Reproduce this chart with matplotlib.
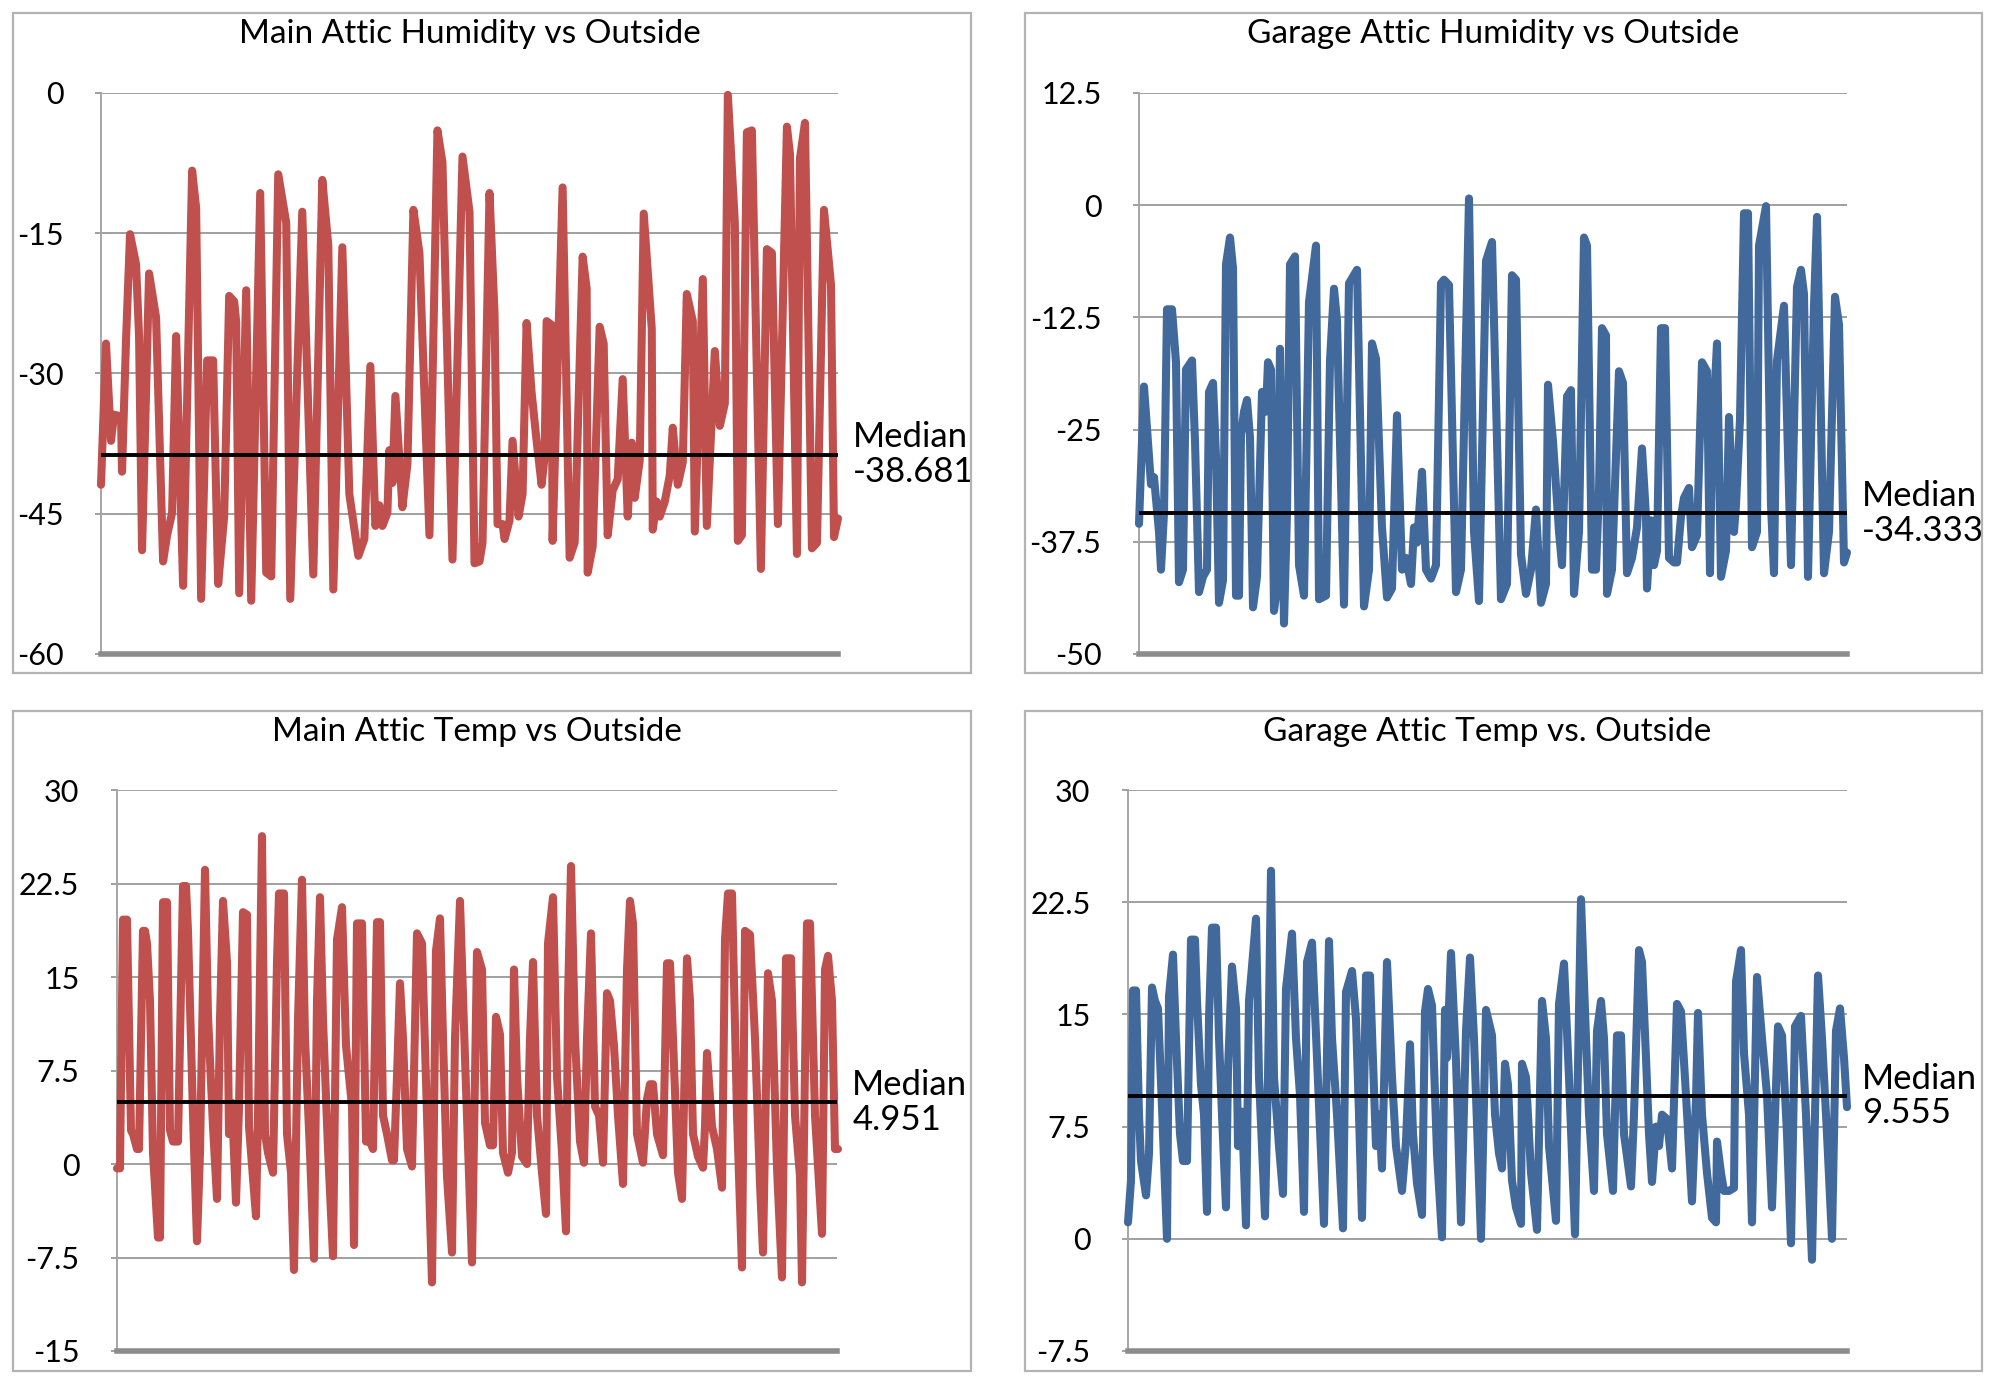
import matplotlib
matplotlib.use("Agg")
import matplotlib.pyplot as plt
from matplotlib.patches import Rectangle
from matplotlib.ticker import FuncFormatter

plt.rcParams['font.family'] = ['Lato', 'DejaVu Sans']

# ---------------- data ----------------
titles = ["Main Attic Humidity vs Outside", "Garage Attic Humidity vs Outside",
          "Main Attic Temp vs Outside", "Garage Attic Temp vs. Outside"]
medians = [-38.681, -34.333, 4.951, 9.555]
y_ticks = [[-60, -45, -30, -15, 0],
           [-50, -37.5, -25, -12.5, 0, 12.5],
           [-15, -7.5, 0, 7.5, 15, 22.5, 30],
           [-7.5, 0, 7.5, 15, 22.5, 30]]

main_hum = [(0, -41.9), (5, -26.8), (10, -37.2), (13, -34.4), (20, -34.6), (21, -40.5), (25, -26.4),
            (29, -15.1), (35, -18.3), (38, -26), (41, -48.9), (48, -19.3), (55, -24), (62, -50.1),
            (66, -47.3), (71, -44.9), (75, -26), (82, -52.7), (91, -8.3), (95, -12.3), (100, -54.1),
            (106, -28.6), (112, -28.6), (117, -52.5), (123, -45.3), (128, -21.7), (133, -22.3),
            (135, -24.5), (138, -53.5), (145, -21.1), (150, -54.3), (159, -10.7), (165, -51.3),
            (170, -51.7), (177, -8.7), (185, -13.9), (189, -54.1), (201, -12.7), (212, -51.5),
            (221, -9.3), (227, -16.3), (232, -53.1), (241, -16.5), (248, -42.9), (255, -48.1),
            (257, -49.5), (263, -47.7), (269, -29.2), (274, -46.3), (278, -44.1), (281, -46.3),
            (286, -44.9), (288, -38.2), (291, -41.7), (294, -32.4), (301, -44.3), (306, -39.7),
            (312, -12.5), (318, -17.1), (328, -47.3), (336, -4.0), (341, -7.4), (351, -49.9),
            (361, -6.8), (368, -12.7), (373, -50.3), (378, -50.1), (381, -48.1), (388, -10.7),
            (393, -23.6), (396, -46.1), (401, -46.1), (403, -47.7), (408, -45.7), (411, -37.2),
            (417, -45.3), (421, -42.9), (425, -24.6), (430, -32), (435, -37.2), (440, -41.9),
            (443, -38.9), (445, -24.4), (450, -24.8), (451, -47.9), (461, -10.1), (468, -49.7),
            (473, -48.1), (481, -17.5), (485, -20.9), (486, -51.3), (491, -48.5), (498, -25),
            (502, -26.8), (506, -47.3), (511, -42.5), (516, -41.3), (521, -30.6), (526, -45.3),
            (530, -37.4), (533, -43.3), (538, -39.3), (542, -12.9), (550, -25.2), (551, -46.7),
            (555, -43.7), (558, -45.3), (563, -43.7), (568, -40.9), (571, -35.8), (576, -41.9),
            (581, -39.5), (585, -21.5), (591, -24.4), (593, -46.9), (601, -19.9), (605, -46.3),
            (613, -27.6), (618, -35.6), (623, -33.2), (626, -0.2), (633, -13.9), (636, -47.9),
            (640, -47.3), (645, -4.2), (650, -4.0), (659, -50.9), (665, -16.7), (670, -17.1),
            (676, -46.1), (685, -3.6), (688, -6.5), (695, -49.3), (698, -7.0), (703, -3.2),
            (710, -48.7), (715, -48.1), (722, -12.5), (729, -20.5), (732, -47.5), (736, -45.5)]

garage_hum = [(0, -35.5), (5, -20.2), (10, -28), (12, -31.1), (15, -30.3), (20, -36.4), (22, -40.6),
              (25, -34.3), (28, -11.6), (33, -11.6), (37, -17.5), (40, -42), (44, -40.6), (47, -18.3),
              (53, -17.3), (56, -26.3), (60, -43.1), (64, -41.4), (68, -40.6), (70, -20.8), (74, -19.8),
              (77, -28), (80, -44.3), (84, -41.8), (87, -6.6), (91, -3.6), (94, -7), (97, -43.5),
              (100, -43.5), (102, -25.5), (105, -23), (108, -21.7), (111, -25.9), (114, -44.8),
              (118, -41.4), (123, -20.8), (127, -23), (129, -17.5), (132, -18.3), (135, -45.2),
              (138, -42.7), (141, -16), (145, -46.6), (148, -34.3), (151, -6.6), (156, -5.7),
              (160, -40.1), (165, -43.5), (170, -10.8), (177, -4.5), (180, -43.9), (187, -43.5),
              (191, -17.3), (195, -9.3), (198, -12.9), (205, -44.5), (210, -8.7), (218, -7.2),
              (225, -44.7), (230, -40.6), (233, -15.4), (237, -17.1), (243, -35.9), (248, -43.7),
              (253, -42.7), (258, -23.4), (263, -40.6), (267, -39.3), (272, -42.2), (275, -35.9),
              (278, -37.6), (283, -29.7), (287, -40.6), (292, -41.6), (297, -40.1), (302, -8.7),
              (305, -8.3), (310, -8.9), (317, -43.1), (322, -40.6), (330, 0.75), (335, -36.4),
              (340, -44.1), (347, -6.2), (353, -4.1), (362, -43.9), (368, -42.2), (373, -7.8),
              (377, -8.3), (382, -38.9), (387, -43.3), (392, -40.6), (397, -33.9), (402, -44.3),
              (407, -42.2), (409, -20), (414, -26.3), (420, -36.4), (423, -40.1), (428, -21.3),
              (432, -20.6), (435, -43.3), (440, -36.4), (445, -3.6), (448, -4.5), (453, -40.6),
              (457, -40.6), (460, -31.8), (463, -13.7), (467, -14.5), (468, -43.3), (473, -40.6),
              (480, -18.5), (484, -19.8), (488, -41), (493, -39.3), (498, -35.9), (503, -27.1),
              (507, -34.7), (508, -42.7), (512, -35.1), (515, -40.1), (518, -38.5), (522, -13.7),
              (526, -13.7), (530, -39.3), (535, -39.8), (538, -39.8), (542, -34.7), (545, -32.6),
              (550, -31.5), (553, -38.1), (558, -36.8), (563, -17.5), (568, -18.5), (571, -41),
              (573, -26.3), (578, -15.4), (582, -41.4), (587, -38.5), (590, -23.6), (595, -36.4),
              (597, -33.4), (601, -23.8), (605, -0.9), (609, -0.9), (613, -38.1), (618, -36.4),
              (620, -4.5), (627, -0.1), (632, -33.4), (635, -41), (638, -17.3), (645, -11.2),
              (652, -40.1), (658, -9.1), (662, -7.2), (665, -9.9), (669, -41.4), (675, -11.2),
              (678, -1.3), (685, -41), (690, -36.4), (696, -10.2), (700, -13.3), (705, -39.8),
              (708, -38.7)]

main_temp = [(0, -0.35), (3, -0.35), (6, 19.6), (10, 19.6), (14, 2.7), (16, 2.4), (20, 1.2), (22, 1.2),
             (26, 18.7), (28, 18.7), (30, 17.7), (33, 13.1), (36, 0.9), (41, -5.9), (43, -5.9),
             (46, 21), (50, 21), (53, 2.7), (56, 1.8), (61, 1.8), (66, 22.3), (69, 22.3), (71, 18.7),
             (76, 3.9), (80, -6.2), (83, 0.9), (88, 23.6), (91, 11.9), (96, 3), (100, -2.8),
             (103, 11.6), (106, 21.1), (110, 16.2), (112, 2.4), (115, 4.9), (119, -3.1), (122, 4.6),
             (126, 20.2), (130, 20), (132, 3), (139, -4.2), (141, 3.9), (145, 26.3), (148, 2.4),
             (151, 0.9), (156, -0.7), (160, 16.2), (162, 21.7), (167, 21.7), (170, 2.4), (174, -0.7),
             (177, -8.5), (181, 11.6), (185, 22.8), (188, 10.1), (193, 0.9), (197, -7.6), (200, 13.1),
             (203, 21.4), (206, 11.6), (211, 1.2), (216, -7.4), (220, 18), (225, 20.6), (229, 9.5),
             (235, 4.6), (237, -6.5), (240, 19.3), (245, 19.3), (249, 1.8), (253, 1.8), (256, 1.2),
             (260, 19.4), (263, 19.4), (266, 3.9), (270, 2.4), (275, 0.3), (277, 0.3), (280, 7),
             (283, 14.5), (286, 10.1), (290, 1.2), (295, -0.2), (300, 18.5), (305, 17.7), (310, 3.9),
             (315, -9.5), (319, 17.1), (323, 19.7), (326, 10.1), (330, -1), (335, -7.1), (338, 10.1),
             (343, 21.1), (348, 8.5), (355, -7.9), (360, 17), (365, 15.6), (368, 3.3), (373, 1.5),
             (376, 1.5), (379, 11.8), (383, 10.4), (386, 0.9), (391, -0.7), (395, 0.9), (397, 15.6),
             (400, 7), (405, 0.6), (410, 0), (413, 10.1), (416, 16.2), (420, 3.9), (425, -0.7),
             (429, -4), (431, 17.7), (436, 21.4), (440, 7), (445, 0.9), (449, -5.4), (451, 13.1),
             (454, 23.9), (458, 10.1), (463, 1.8), (467, 0.1), (470, 10.1), (474, 18.5), (478, 4.6),
             (482, 3.9), (486, 0.1), (490, 13.7), (493, 13.1), (497, 9.5), (501, 3.9), (506, -1.6),
             (510, 15.6), (513, 21.1), (516, 19.3), (520, 2.4), (526, 0.1), (530, 5.2), (533, 6.4),
             (536, 6.4), (540, 2.4), (546, 0.7), (550, 16.1), (553, 16.1), (556, 10.1), (561, -0.7),
             (565, -2.8), (570, 16.5), (573, 13.1), (576, 2.4), (581, 0.6), (586, -0.3), (588, 3),
             (590, 8.9), (595, 3), (600, 1.2), (605, -1.9), (608, 18), (611, 21.7), (615, 21.7),
             (620, 3.9), (625, -8.3), (628, 18.7), (633, 18.4), (638, 10.1), (643, -1.6), (646, -7.1),
             (651, 15.3), (655, 13.1), (660, -0.3), (665, -9.1), (669, 16.5), (674, 16.5), (678, 3.9),
             (683, -1), (685, -9.5), (690, 19.3), (693, 19.3), (698, 3.9), (705, -5.6), (708, 15.6),
             (711, 16.7), (715, 13.1), (718, 1.2), (721, 1.2)]

garage_temp = [(0, 1.1), (3, 3.9), (5, 16.6), (8, 16.6), (11, 8.3), (13, 5.2), (18, 2.9), (21, 5.7),
               (24, 16.8), (27, 15.9), (30, 15.4), (34, 8.8), (39, 0), (41, 16.2), (45, 19), (48, 13.4),
               (52, 7), (55, 5.2), (59, 5.2), (63, 20), (67, 20), (69, 15.9), (73, 10.3), (76, 8.3),
               (79, 1.8), (81, 14.7), (84, 20.8), (88, 20.8), (91, 13.4), (94, 8.3), (98, 2.1),
               (100, 11.3), (104, 18.2), (108, 15.4), (110, 6.2), (114, 8.5), (118, 0.9), (121, 15.9),
               (124, 18.2), (128, 21.4), (131, 10.8), (137, 1.5), (140, 10.8), (143, 24.6), (146, 10.8),
               (151, 6.2), (155, 3), (158, 16.7), (164, 20.4), (168, 13.4), (172, 9.6), (176, 1.8),
               (179, 18.5), (184, 19.8), (189, 12.1), (196, 1), (201, 19.9), (204, 13.4), (209, 8.3),
               (215, 0.7), (218, 16.5), (224, 17.9), (228, 14.7), (231, 8.3), (234, 1.4), (238, 17.6),
               (242, 17.6), (248, 6.2), (251, 8.3), (254, 4.7), (259, 18.5), (264, 10.8), (268, 6.2),
               (274, 3.2), (278, 6.5), (282, 13), (285, 7), (289, 3.7), (294, 1.6), (297, 15.2),
               (300, 16.7), (304, 15.6), (309, 5.7), (314, 0.1), (317, 15.3), (319, 12.1), (323, 19.1),
               (328, 11.9), (333, 1.1), (338, 13.9), (342, 18.8), (346, 13.4), (353, 0), (358, 15.3),
               (364, 13.6), (367, 8.3), (371, 5.7), (374, 4.7), (377, 11.7), (380, 10.3), (384, 3.9),
               (388, 2.1), (393, 1), (394, 11.7), (398, 10.8), (403, 4.4), (409, 0.6), (414, 15.9),
               (418, 13.4), (421, 6.2), (428, 1.2), (431, 15.7), (436, 18.4), (441, 10.8), (447, 0.3),
               (453, 22.7), (458, 13.4), (461, 8.3), (466, 3.2), (469, 13.9), (473, 15.9), (476, 13.4),
               (479, 7), (485, 3.2), (489, 13.6), (493, 13.6), (496, 7), (503, 3.5), (506, 8.3),
               (511, 19.3), (514, 18.5), (518, 12.1), (521, 7), (524, 3.8), (528, 7.5), (531, 6.2),
               (534, 8.3), (539, 8), (544, 4.7), (549, 15.7), (553, 15.2), (558, 9.6), (564, 2.5),
               (568, 9.3), (570, 15.1), (574, 8.3), (579, 4.4), (584, 1.4), (588, 1.1), (589, 6.5),
               (593, 4.4), (596, 3.2), (601, 3.2), (606, 3.4), (608, 17.2), (613, 19.3), (616, 12.4),
               (621, 8.3), (624, 1.1), (629, 17.5), (634, 13.4), (639, 9.6), (644, 2.1), (650, 14.2),
               (654, 13.6), (659, 7), (663, -0.3), (667, 14.2), (673, 14.9), (678, 8.3), (684, -1.4),
               (687, 8.3), (690, 17.6), (694, 13.4), (699, 7), (704, 0), (708, 13.9), (712, 15.4),
               (716, 12.1), (719, 8.8)]

series = [main_hum, garage_hum, main_temp, garage_temp]
x_span = [736, 708, 720, 719]

# ---------------- style / layout ----------------
RED = '#C0504D'
BLUE = '#41699B'
colors = [RED, BLUE, RED, BLUE]
W, H = 1999, 1388
# plot areas (left, right, top, bottom) in pixels
plot_px = [(101, 838, 93, 654), (1139, 1847, 93, 654),
           (117, 837, 790, 1351), (1128, 1847, 790, 1351)]
frame_px = [(13, 971, 13, 673), (1025, 1982, 13, 673),
            (13, 971, 711, 1371), (1025, 1982, 711, 1371)]
title_y = [34, 34, 732, 732]

fig = plt.figure(figsize=(W / 100, H / 100), dpi=100)
fig.patch.set_facecolor('white')

FS_TICK = 22
FS_TITLE = 24
FS_MED = 25
fmt = FuncFormatter(lambda v, p: '0' if v == 0 else '%g' % v)

for i in range(4):
    fl, fr, ft, fb = frame_px[i]
    fig.add_artist(Rectangle((fl / W, 1 - fb / H), (fr - fl) / W, (fb - ft) / H,
                             transform=fig.transFigure, fill=False,
                             edgecolor='#b3b3b3', linewidth=1.6))
    l, r, t, b = plot_px[i]
    ax = fig.add_axes([l / W, 1 - b / H, (r - l) / W, (b - t) / H])
    ax.set_facecolor('none')
    xs = [p[0] for p in series[i]]
    ys = [p[1] for p in series[i]]
    ax.plot(xs, ys, color=colors[i], lw=5.8, solid_joinstyle='round',
            solid_capstyle='round', zorder=3, clip_on=False)
    ax.axhline(medians[i], color='black', lw=2.8, zorder=4)
    ticks = y_ticks[i]
    ax.set_ylim(ticks[0], ticks[-1])
    ax.set_xlim(0, x_span[i])
    ax.set_yticks(ticks)
    ax.yaxis.set_major_formatter(fmt)
    ax.set_xticks([])
    ax.grid(axis='y', color='#a0a0a0', lw=1.4, zorder=1)
    for s in ['top', 'right']:
        ax.spines[s].set_visible(False)
    ax.spines['left'].set_color('#a6a6a6')
    ax.spines['left'].set_linewidth(1.4)
    ax.spines['bottom'].set_color('#8c8c8c')
    ax.spines['bottom'].set_linewidth(4.0)
    ax.spines['bottom'].set_zorder(5)
    ax.tick_params(axis='y', length=4, width=1.4, color='#a0a0a0', pad=23,
                   labelsize=FS_TICK, labelcolor='black')
    ax.annotate('Median\n%s' % ('%.3f' % medians[i]), xy=(1, medians[i]),
                xycoords=ax.get_yaxis_transform(), xytext=(11, 0),
                textcoords='offset points', ha='left', va='center',
                fontsize=FS_MED, linespacing=1.1, color='black')
    fig.text(((l + r) / 2) / W, 1 - title_y[i] / H, titles[i], ha='center',
             va='center', fontsize=FS_TITLE, color='black')

fig.savefig('out.png', dpi=100, facecolor='white')
